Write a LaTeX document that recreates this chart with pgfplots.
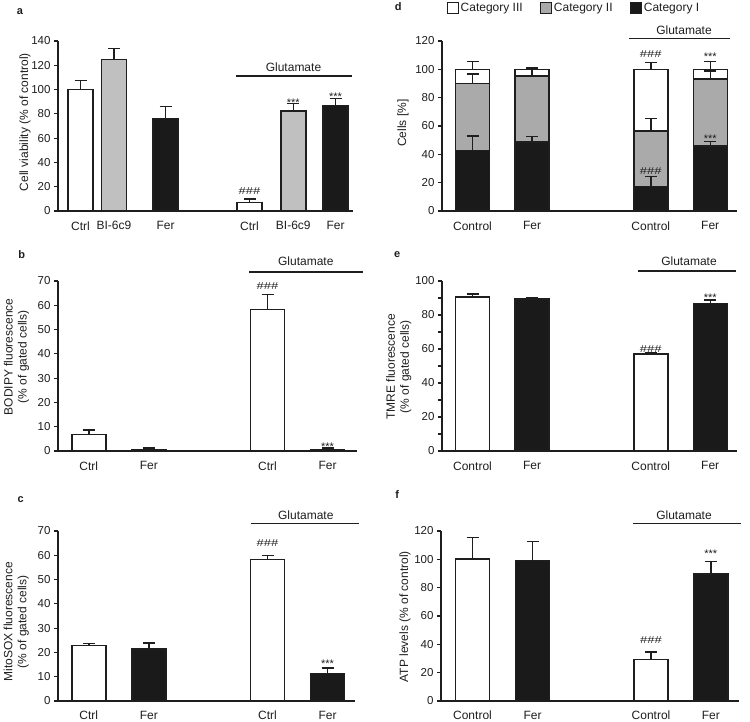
\documentclass[border=0pt]{standalone}
\usepackage{fontspec}
\setmainfont{Liberation Sans}
\usepackage{graphicx}
\usepackage{pgfplots}
\pgfplotsset{compat=1.18}

\definecolor{ink}{RGB}{30,30,30}
\definecolor{barblack}{RGB}{26,26,26}
\definecolor{lgray}{RGB}{192,192,192}
\definecolor{mgray}{RGB}{170,170,170}

\newcommand{\hh}{\scalebox{1.3}[1]{\fontsize{10}{10}\selectfont\#\#\#}}
\newcommand{\st}{{\fontsize{11}{11}\selectfont ***}}

\pgfplotsset{
  panel/.style={scale only axis, axis lines=left,
    axis line style={-, line width=1.4pt, ink},
    xmin=0, ymin=0, clip=false,
    tick align=outside, major tick length=4pt, minor tick length=4pt,
    ytick style={line width=1.2pt, ink}, xtick style={draw=none},
    yticklabel style={font=\fontsize{11.5}{13}\selectfont, text=ink},
    xticklabel style={font=\fontsize{12}{14}\selectfont, text=ink, yshift=-3pt},
    /pgf/number format/assume math mode=true},
  mybar/.style={ybar, bar width=34pt, bar shift=0pt, draw=ink, line width=1.4pt,
    /pgfplots/error bars/y dir=plus, /pgfplots/error bars/y explicit,
    /pgfplots/error bars/error bar style={line width=1.4pt, ink},
    /pgfplots/error bars/error mark options={rotate=90, mark size=6pt, line width=1.4pt, ink}},
}
\tikzset{
  sig/.style={anchor=base, inner sep=0pt, text=ink},
  ast/.style={anchor=base, inner sep=0pt, text=ink, yshift=-4.7pt},
}

\begin{document}
\begin{tikzpicture}
\useasboundingbox (0,0) rectangle (750pt,-721pt);

% ---- panel a
\begin{axis}[panel, at={(58pt,-211pt)}, anchor=south west, width=295pt, height=170pt,
  xmax=295, ymax=140, ytick={0,20,...,140},
  xtick={22.5,56,107.5,191.5,235.3,277.5}, xticklabels={Ctrl,BI-6c9,Fer,Ctrl,BI-6c9,Fer},
  xticklabel style={yshift=0pt}]
\addplot[mybar, bar width=25pt, fill=white] coordinates {(22.5,100) +- (0,7.5) (191.5,7) +- (0,3)};
\addplot[mybar, bar width=25pt, fill=lgray] coordinates {(56,125) +- (0,9) (235.3,82.4) +- (0,6)};
\addplot[mybar, bar width=25pt, fill=barblack] coordinates {(107.5,76) +- (0,10) (277.5,86.7) +- (0,6)};
\node[sig] at (axis cs:191.5,13.2) {\hh};
\node[ast] at (axis cs:235.3,90) {\st};
\node[ast] at (axis cs:277.5,94.7) {\st};
\end{axis}

% ---- panel b
\begin{axis}[panel, at={(58pt,-451pt)}, anchor=south west, width=299pt, height=170pt,
  xmax=299, ymax=70, ytick={0,10,...,70},
  xtick={30.8,90.8,209.5,269.5}, xticklabels={Ctrl,Fer,Ctrl,Fer}]
\addplot[mybar, fill=white] coordinates {(30.8,6.8) +- (0,1.8) (209.5,58.2) +- (0,6.3)};
\addplot[mybar, fill=barblack] coordinates {(90.8,0.5) +- (0,0.7) (269.5,0.7) +- (0,0.5)};
\node[sig] at (axis cs:209.5,66.6) {\hh};
\node[ast] at (axis cs:269.5,2) {\st};
\end{axis}

% ---- panel c
\begin{axis}[panel, at={(58pt,-701pt)}, anchor=south west, width=297pt, height=170pt,
  xmax=297, ymax=70, ytick={0,10,...,70},
  xtick={30.8,90.8,209.5,269.5}, xticklabels={Ctrl,Fer,Ctrl,Fer},
  xticklabel style={yshift=0.5pt}]
\addplot[mybar, fill=white] coordinates {(30.8,22.8) +- (0,1) (209.5,58.2) +- (0,1.6)};
\addplot[mybar, fill=barblack] coordinates {(90.8,21.4) +- (0,2.5) (269.5,11.3) +- (0,2.3)};
\node[sig] at (axis cs:209.5,63.5) {\hh};
\node[ast] at (axis cs:269.5,15.9) {\st};
\end{axis}

% ---- panel d
\begin{axis}[panel, at={(442pt,-211pt)}, anchor=south west, width=295pt, height=170pt,
  xmax=295, ymax=120, ytick={0,20,...,120},
  xtick={30.5,90,208.8,268.2}, xticklabels={Control,Fer,Control,Fer},
  legend columns=3,
  legend style={draw=none, fill=none, at={(rel axis cs:0.447,1.192)}, anchor=center,
    font=\fontsize{12}{14}\selectfont, text=ink,
    /tikz/every even column/.style={column sep=15pt}}]
\addplot[mybar, forget plot, fill=white] coordinates {(30.5,100) +- (0,5.4) (90,100) +- (0,1.4) (208.8,100) +- (0,5) (268.2,100) +- (0,5.4)};
\addplot[mybar, forget plot, fill=mgray] coordinates {(30.5,90.1) +- (0,6.6) (90,95.3) +- (0,5.7) (208.8,56.5) +- (0,8.9) (268.2,93.2) +- (0,5.6)};
\addplot[mybar, forget plot, fill=barblack] coordinates {(30.5,42.6) +- (0,10.3) (90,48.7) +- (0,3.8) (208.8,17.2) +- (0,7) (268.2,45.9) +- (0,3)};
\addlegendimage{legend image code/.code={\draw[fill=white, draw=ink, line width=1.2pt] (0pt,-5.5pt) rectangle (11pt,5.5pt);}}
\addlegendentry{Category III}
\addlegendimage{legend image code/.code={\draw[fill=mgray, draw=ink, line width=1.2pt] (0pt,-5.5pt) rectangle (11pt,5.5pt);}}
\addlegendentry{Category II}
\addlegendimage{legend image code/.code={\draw[fill=barblack, draw=ink, line width=1.2pt] (0pt,-5.5pt) rectangle (11pt,5.5pt);}}
\addlegendentry{Category I}
\node[sig] at (axis cs:208.8,108.2) {\hh};
\node[sig] at (axis cs:208.8,26.1) {\hh};
\node[ast] at (axis cs:268.2,109.6) {\st};
\node[ast] at (axis cs:268.2,52) {\st};
\end{axis}

% ---- panel e
\begin{axis}[panel, at={(442pt,-451pt)}, anchor=south west, width=295pt, height=170pt,
  xmax=295, ymax=100, ytick={0,20,...,100}, minor y tick num=1,
  xtick={30.5,90,208.8,268.2}, xticklabels={Control,Fer,Control,Fer}]
\addplot[mybar, fill=white] coordinates {(30.5,90.6) +- (0,1.8) (208.8,57) +- (0,1)};
\addplot[mybar, fill=barblack] coordinates {(90,89.4) +- (0,1) (268.2,86.9) +- (0,1.9)};
\node[sig] at (axis cs:208.8,58) {\hh};
\node[ast] at (axis cs:268.2,90.8) {\st};
\end{axis}

% ---- panel f
\begin{axis}[panel, at={(441pt,-701pt)}, anchor=south west, width=298pt, height=170pt,
  xmax=298, ymax=120, ytick={0,20,...,120},
  xtick={31.5,91.5,210,269.8}, xticklabels={Control,Fer,Control,Fer},
  xticklabel style={yshift=0.5pt}]
\addplot[mybar, fill=white] coordinates {(31.5,100.2) +- (0,15.3) (210,29.2) +- (0,5.4)};
\addplot[mybar, fill=barblack] coordinates {(91.5,99) +- (0,13.5) (269.8,89.6) +- (0,9)};
\node[sig] at (axis cs:210,40.7) {\hh};
\node[ast] at (axis cs:269.8,104.7) {\st};
\end{axis}

% ---- Glutamate brackets
\begin{scope}[line width=1.6pt, ink, font=\fontsize{12}{14}\selectfont]
\draw (236pt,-76pt) -- (352pt,-76pt);     \node[anchor=base, text=ink] at (293.5pt,-71pt) {Glutamate};
\draw (249.3pt,-271.7pt) -- (363.3pt,-271.7pt); \node[anchor=base, text=ink] at (305.8pt,-265.7pt) {Glutamate};
\draw (250.7pt,-523.3pt) -- (359.3pt,-523.3pt); \node[anchor=base, text=ink] at (305.8pt,-519pt) {Glutamate};
\draw (629pt,-38.3pt) -- (730pt,-38.3pt); \node[anchor=base, text=ink] at (684pt,-34.3pt) {Glutamate};
\draw (638pt,-271pt) -- (736pt,-271pt); \node[anchor=base, text=ink] at (689pt,-265.7pt) {Glutamate};
\draw (632.7pt,-523.3pt) -- (740.7pt,-523.3pt); \node[anchor=base, text=ink] at (684pt,-519pt) {Glutamate};
\end{scope}

% ---- y labels
\begin{scope}[font=\fontsize{12}{14}\selectfont, text=ink]
\node[rotate=90] at (25pt,-122pt) {Cell viability (\% of control)};
\node[rotate=90, align=center] at (16.5pt,-356.7pt) {BODIPY fluorescence\\(\% of gated cells)};
\node[rotate=90, align=center] at (16.3pt,-621.7pt) {MitoSOX fluorescence\\(\% of gated cells)};
\node[rotate=90] at (403pt,-123.3pt) {Cells [\%]};
\node[rotate=90, align=center] at (398.7pt,-366.7pt) {TMRE fluorescence\\(\% of gated cells)};
\node[rotate=90] at (405pt,-616.7pt) {ATP levels (\% of control)};
\end{scope}

% ---- panel letters
\begin{scope}[font=\fontsize{11}{13}\selectfont\bfseries, text=ink]
\node at (20pt,-11.7pt) {a};
\node at (21.7pt,-255pt) {b};
\node at (20.7pt,-500pt) {c};
\node at (398.3pt,-6.7pt) {d};
\node at (397.3pt,-255pt) {e};
\node at (397.3pt,-495pt) {f};
\end{scope}
\end{tikzpicture}
\end{document}
